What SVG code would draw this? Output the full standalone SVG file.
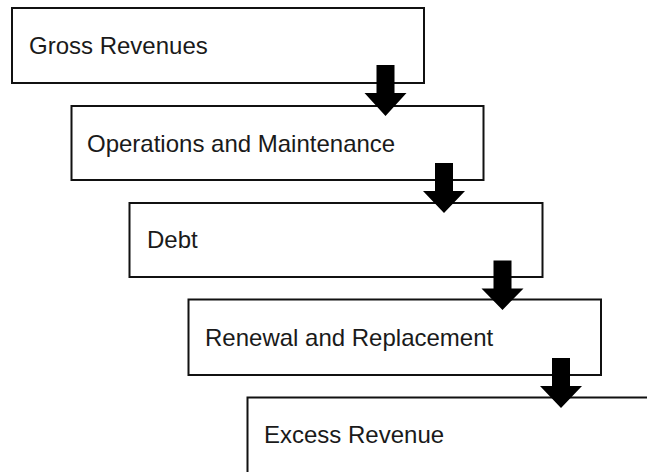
<svg xmlns="http://www.w3.org/2000/svg" width="647" height="472" viewBox="0 0 647 472">
<style>
.box{fill:#fff;stroke:#111;stroke-width:2}
.lbl{font-family:"Liberation Sans",Arial,sans-serif;font-size:24px;fill:#1a1a1a}
.arr{fill:#000}
</style>
<rect width="647" height="472" fill="#fff"/>
<g id="gross-revenues">
<rect class="box" x="12" y="8" width="412" height="75"/>
<text class="lbl" x="29" y="54">Gross Revenues</text>
</g>
<g id="operations-maintenance">
<rect class="box" x="71.5" y="106" width="412" height="74"/>
<text class="lbl" x="87" y="152">Operations and Maintenance</text>
</g>
<g id="debt">
<rect class="box" x="129.5" y="203" width="413" height="74"/>
<text class="lbl" x="147" y="248">Debt</text>
</g>
<g id="renewal-replacement">
<rect class="box" x="188.5" y="299.5" width="412.5" height="75.5"/>
<text class="lbl" x="205" y="346">Renewal and Replacement</text>
</g>
<g id="excess-revenue">
<rect class="box" x="247.5" y="397.5" width="420" height="90"/>
<text class="lbl" x="264" y="443">Excess Revenue</text>
</g>
<g id="connectors">
<polygon class="arr" points="376.5,65 394.5,65 394.5,93 406.5,93 385.5,116 364.5,93 376.5,93"/>
<polygon class="arr" points="435,163 453,163 453,191 465,191 444,213 423,191 435,191"/>
<polygon class="arr" points="493.5,260.5 511.5,260.5 511.5,288.5 523.5,288.5 502.5,310 481.5,288.5 493.5,288.5"/>
<polygon class="arr" points="552,358 570,358 570,386 582,386 561,408 540,386 552,386"/>
</g>
</svg>
